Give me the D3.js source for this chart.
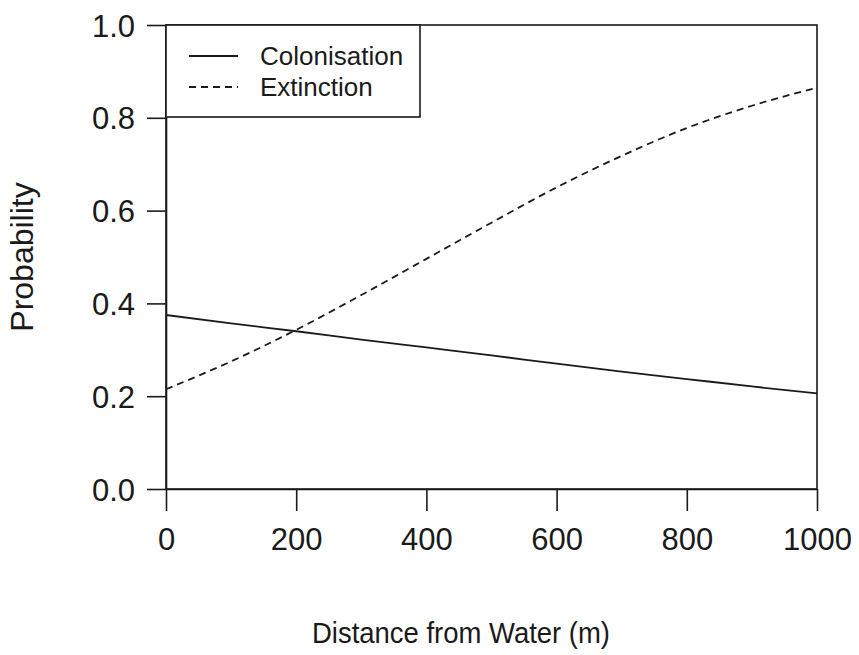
<!DOCTYPE html>
<html>
<head>
<meta charset="utf-8">
<script src="https://cdn.jsdelivr.net/npm/d3@7"></script>
<style>
  body { margin: 0; background: #fff; }
  svg text { font-family: "Liberation Sans", Arial, sans-serif; fill: #1a1a1a; }
</style>
</head>
<body>
<script>
// distances (m) along the curves
var distance = [0, 100, 200, 300, 400, 500, 600, 700, 800, 900, 1000];
// probabilities
var colonisation = [0.375, 0.357, 0.340, 0.322, 0.305, 0.288, 0.270, 0.253, 0.237, 0.221, 0.206];
var extinction = [0.215, 0.275, 0.343, 0.418, 0.496, 0.574, 0.650, 0.718, 0.778, 0.826, 0.865];
var xTicks = [0, 200, 400, 600, 800, 1000];
var yTicks = [0.0, 0.2, 0.4, 0.6, 0.8, 1.0];
var seriesNames = ["Colonisation", "Extinction"];

var width = 859, height = 655;
// plot box edges (top is a reserved window name, so prefix them)
var boxLeft = 166, boxRight = 817, boxTop = 25, boxBottom = 489;
var ink = "#1a1a1a";

var svg = d3.select('body').append('svg')
        .attr('width', width)
        .attr('height', height);

var x = d3.scaleLinear().domain([0, 1000]).range([boxLeft, boxRight]);
var y = d3.scaleLinear().domain([0, 1]).range([boxBottom, boxTop]);

// x axis
var gx = svg.append('g')
        .attr('transform', 'translate(0,' + boxBottom + ')')
        .call(d3.axisBottom(x).tickValues(xTicks).tickSize(22).tickSizeOuter(0).tickPadding(10)
                .tickFormat(d3.format('d')));
gx.selectAll('text').attr('font-size', 31).attr('dy', '0.95em');

// y axis
var gy = svg.append('g')
        .attr('transform', 'translate(' + boxLeft + ',0)')
        .call(d3.axisLeft(y).tickValues(yTicks).tickSize(19).tickSizeOuter(0).tickPadding(12)
                .tickFormat(d3.format('.1f')));
gy.selectAll('text').attr('font-size', 31).attr('dy', '0.36em');

svg.selectAll('.domain, .tick line').attr('stroke', ink).attr('stroke-width', 1.6);
svg.selectAll('.tick text').attr('fill', ink);

// plot box
svg.append('rect')
        .attr('x', boxLeft)
        .attr('y', boxTop)
        .attr('width', boxRight - boxLeft)
        .attr('height', boxBottom - boxTop)
        .attr('fill', 'none')
        .attr('stroke', ink)
        .attr('stroke-width', 1.6);

var line = d3.line()
        .x(function(d, i) { return x(distance[i]); })
        .y(function(d) { return y(d); })
        .curve(d3.curveMonotoneX);

svg.append('path')
        .attr('d', line(colonisation))
        .attr('fill', 'none')
        .attr('stroke', ink)
        .attr('stroke-width', 1.8);

svg.append('path')
        .attr('d', line(extinction))
        .attr('fill', 'none')
        .attr('stroke', ink)
        .attr('stroke-width', 1.8)
        .attr('stroke-dasharray', '7,5');

// legend
var legend = svg.append('g');
legend.append('rect')
        .attr('x', boxLeft)
        .attr('y', boxTop)
        .attr('width', 254)
        .attr('height', 92)
        .attr('fill', '#fff')
        .attr('stroke', ink)
        .attr('stroke-width', 1.6);

seriesNames.forEach(function(name, i) {
    var ly = 56 + i * 31;
    legend.append('line')
            .attr('x1', 189).attr('x2', 238)
            .attr('y1', ly).attr('y2', ly)
            .attr('stroke', ink)
            .attr('stroke-width', 1.8)
            .attr('stroke-dasharray', i === 1 ? '7,5' : null);
    legend.append('text')
            .attr('x', 260)
            .attr('y', ly)
            .attr('dy', '0.35em')
            .attr('font-size', 26)
            .text(name);
});

// axis titles
svg.append('text')
        .attr('x', 461)
        .attr('y', 643)
        .attr('text-anchor', 'middle')
        .attr('font-size', 29)
        .attr('textLength', 298)
        .attr('lengthAdjust', 'spacingAndGlyphs')
        .text('Distance from Water (m)');

svg.append('text')
        .attr('transform', 'translate(33,257) rotate(-90)')
        .attr('text-anchor', 'middle')
        .attr('font-size', 32)
        .text('Probability');
</script>
</body>
</html>
